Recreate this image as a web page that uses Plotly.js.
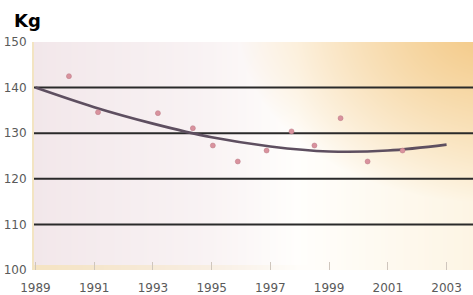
<!DOCTYPE html>
<html>
<head>
<meta charset="utf-8">
<script src="https://cdn.plot.ly/plotly-3.0.1.min.js"></script>
<style>html,body{margin:0;padding:0;background:#fff;}#chart{width:473px;height:295px;}</style>
</head>
<body>
<div id="chart"></div>
<script>
// Observed points (year, kg)
const pointYears = [1990.14, 1991.13, 1993.17, 1994.36, 1995.04, 1995.89, 1996.87, 1997.72, 1998.5, 1999.39, 2000.31, 2001.5];
const pointValues = [142.5, 134.6, 134.4, 131.1, 127.3, 123.8, 126.2, 130.4, 127.3, 133.3, 123.8, 126.2];
// Trend curve read at each tick year
const trendYears = [1989, 1991, 1993, 1995, 1997, 1999, 2001, 2003];
const trendValues = [140.0, 135.7, 132.1, 129.1, 127.1, 126.0, 126.2, 127.5];
const tickYears = [1989, 1991, 1993, 1995, 1997, 1999, 2001, 2003];
const tickLabels = ["1989", "1991", "1993", "1995", "1997", "1999", "2001", "2003"];
const yTicks = [100, 110, 120, 130, 140, 150];

// Decorative background for the plot area, computed per pixel
function makeBackground() {
  const W = 440, H = 228;
  const c = document.createElement("canvas");
  c.width = W; c.height = H;
  const ctx = c.getContext("2d");
  const img = ctx.createImageData(W, H);
  const stops = [[0, [242, 231, 234]], [0.4, [249, 243, 244]], [0.6, [255, 254, 252]], [1, [253, 245, 228]]];
  const orange = [243, 200, 132];
  function base(t) {
    for (let i = 0; i < stops.length - 1; i++) {
      const [t0, c0] = stops[i], [t1, c1] = stops[i + 1];
      if (t <= t1) {
        const f = (t - t0) / (t1 - t0);
        return c0.map((v, k) => v + (c1[k] - v) * f);
      }
    }
    return stops[stops.length - 1][1];
  }
  for (let y = 0; y < H; y++) {
    for (let x = 0; x < W; x++) {
      let col = base(x / (W - 1));
      const dx = (x - 455) / 250, dy = (y + 15) / 175;
      const d = Math.sqrt(dx * dx + dy * dy);
      const w = Math.pow(Math.max(0, 1 - d), 0.9);
      col = col.map((v, k) => v + (orange[k] - v) * w);
      if (y >= H - 5) {
        const bw = Math.max(0, 1 - x / W * 1.6) * 0.8;
        col = col.map((v, k) => v + ([246, 227, 184][k] - v) * bw);
      }
      const p = (y * W + x) * 4;
      img.data[p] = col[0]; img.data[p + 1] = col[1]; img.data[p + 2] = col[2]; img.data[p + 3] = 255;
    }
  }
  ctx.putImageData(img, 0, 0);
  return c.toDataURL("image/png");
}

const traces = [
  {
    x: trendYears, y: trendValues, type: "scatter", mode: "lines",
    line: {color: "#5e4f60", width: 2.6, shape: "spline", smoothing: 1},
    hoverinfo: "skip", showlegend: false
  },
  {
    x: pointYears, y: pointValues, type: "scatter", mode: "markers",
    marker: {size: 5, color: "#d9929e", line: {color: "#b87883", width: 0.5}},
    showlegend: false
  }
];

const layout = {
  width: 473, height: 295,
  margin: {l: 34, r: 0, t: 42, b: 25, pad: 0},
  paper_bgcolor: "#ffffff",
  plot_bgcolor: "rgba(0,0,0,0)",
  font: {family: "DejaVu Sans, sans-serif", color: "#5a5a5a", size: 12},
  xaxis: {
    range: [1988.95, 2003.9], tickvals: tickYears, ticktext: tickLabels,
    showgrid: false, zeroline: false, showline: false,
    ticks: "inside", ticklen: 8, tickcolor: "#cfc6bd", tickwidth: 1,
    ticklabelstandoff: 9,
    tickfont: {size: 12, color: "#5a5a5a", family: "DejaVu Sans, sans-serif"}
  },
  yaxis: {
    range: [100, 150], tickvals: yTicks, ticktext: yTicks.map(String),
    showgrid: false, zeroline: false, showline: true, linecolor: "#f3e4c2", linewidth: 2,
    ticks: "", ticklabelstandoff: 3,
    tickfont: {size: 12, color: "#5a5a5a", family: "DejaVu Sans, sans-serif"}
  },
  shapes: [110, 120, 130, 140].map(v => ({
    type: "line", xref: "paper", yref: "y", x0: 0, x1: 1, y0: v, y1: v,
    line: {color: "#2a2a2a", width: 2}, layer: "below"
  })),
  images: [{
    source: makeBackground(), xref: "paper", yref: "paper", x: 0, y: 1, sizex: 1, sizey: 1,
    xanchor: "left", yanchor: "top", sizing: "stretch", layer: "below"
  }],
  annotations: [{
    text: "<b>Kg</b>", xref: "paper", yref: "paper", x: -0.05, y: 1.0, yshift: 22,
    xanchor: "left", yanchor: "middle", showarrow: false,
    font: {size: 18, color: "#000000", family: "DejaVu Sans, sans-serif"}
  }]
};

Plotly.newPlot("chart", traces, layout, {displayModeBar: false, staticPlot: true});
</script>
</body>
</html>
